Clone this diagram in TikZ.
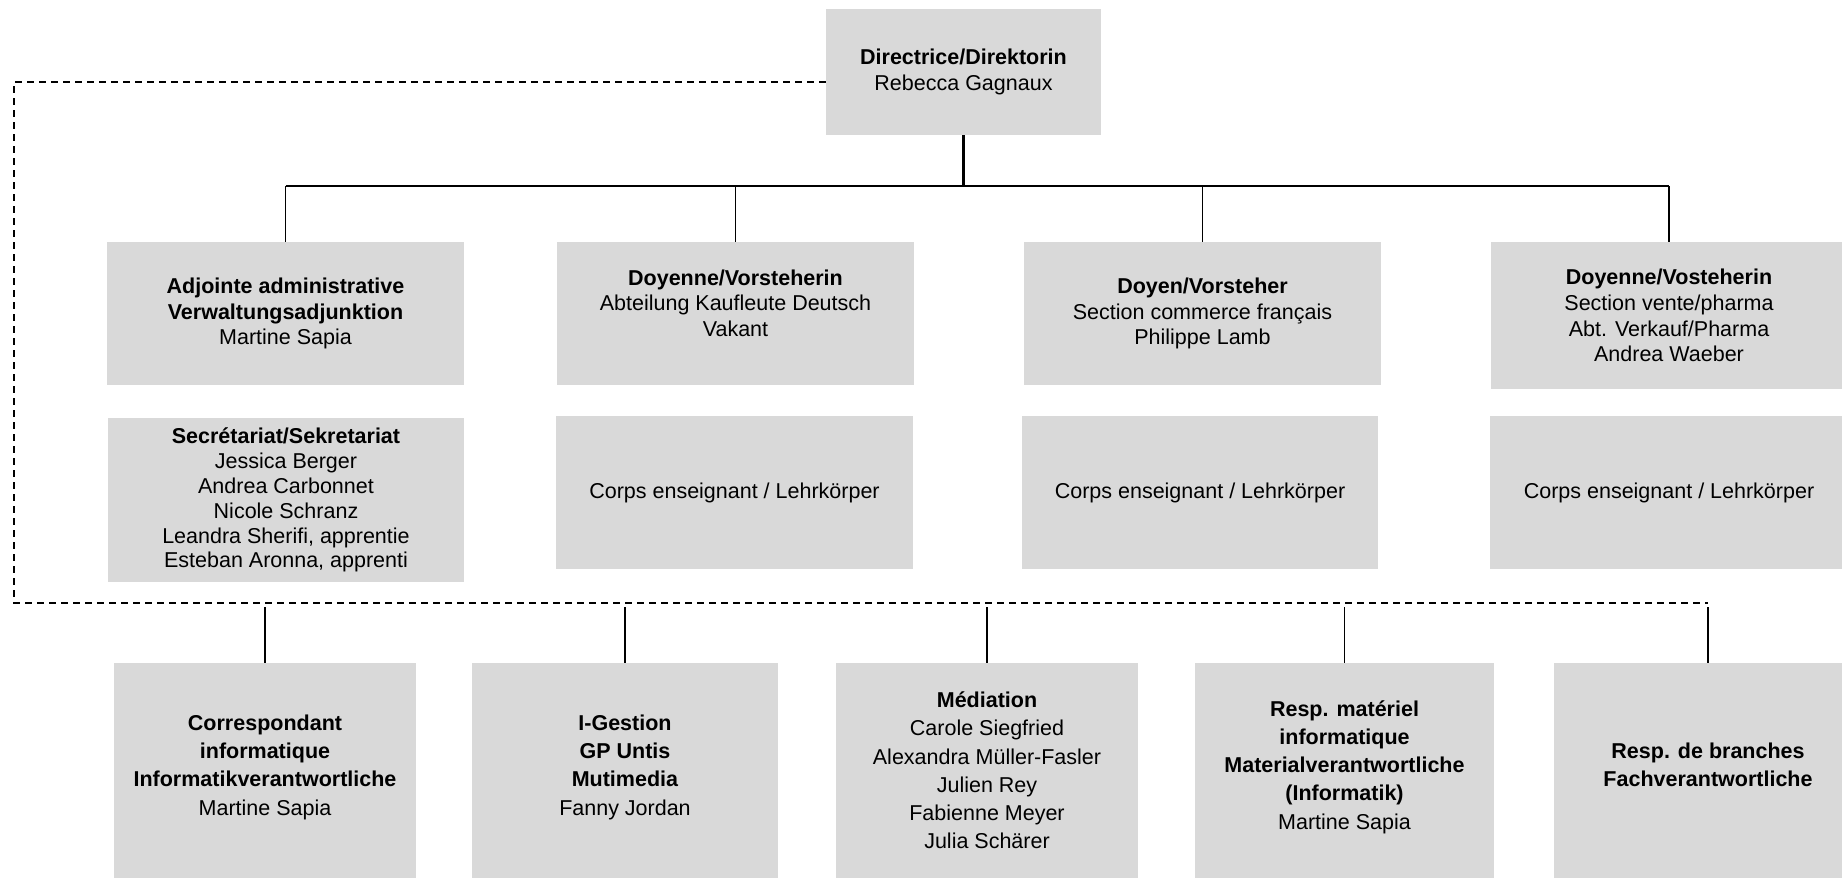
\documentclass[tikz,border=0pt]{standalone}
\usepackage{fontspec}
\setmainfont{Liberation Sans}
\definecolor{boxgray}{HTML}{D9D9D9}
\tikzset{
  post/.style={fill=boxgray, align=center, inner sep=0pt,
    font=\fontsize{21.5pt}{25.8pt}\selectfont},
  staff/.style={post, font=\fontsize{21.5pt}{28.2pt}\selectfont},
  bus/.style={line width=2.4pt},
  drop/.style={line width=1.5pt},
  dashlink/.style={line width=1.8pt, dash pattern=on 7pt off 5pt}
}
\begin{document}
\begin{tikzpicture}[x=1pt,y=-1pt]
  \useasboundingbox (0,0) rectangle (1842,878);

  \newcommand\Hb{143pt}
  \newcommand\Hc{153pt}
  \newcommand\Hd{215pt}

  % direction
  \node[post, minimum width=275pt, minimum height=126pt] (dir) at (963.5,72)
  {\textbf{Directrice/Direktorin}\\Rebecca Gagnaux};

  % second row
  \node[post, minimum width=357pt, minimum height=\Hb] (adj) at (285.5,313.5)
  {\textbf{Adjointe administrative}\\\textbf{Verwaltungsadjunktion}\\Martine Sapia};
  \node[post, minimum width=357pt, minimum height=\Hb] (doyA) at (735.5,313.5)
  {\textbf{Doyenne/Vorsteherin}\\Abteilung Kaufleute Deutsch\\Vakant\\[-5pt]};
  \node[post, minimum width=357pt, minimum height=\Hb] (doyB) at (1202.5,313.5)
  {\textbf{Doyen/Vorsteher}\\Section commerce français\\Philippe Lamb};
  \node[post, minimum width=357pt, minimum height=147pt] (doyC) at (1669,315.5)
  {\textbf{Doyenne/Vosteherin}\\Section vente/pharma\\Abt. Verkauf/Pharma\\Andrea Waeber};

  % third row
  \node[post, font=\fontsize{21.5pt}{24.9pt}\selectfont,
    minimum width=356pt, minimum height=164pt] (sec) at (286,500)
  {\textbf{Secrétariat/Sekretariat}\\Jessica Berger\\Andrea Carbonnet\\Nicole Schranz\\
   Leandra Sherifi, apprentie\\Esteban Aronna, apprenti};
  \node[post, minimum width=357pt, minimum height=\Hc] (corpsA) at (734.5,492.5)
  {Corps enseignant / Lehrkörper};
  \node[post, minimum width=356pt, minimum height=\Hc] (corpsB) at (1200,492.5)
  {Corps enseignant / Lehrkörper};
  \node[post, minimum width=358pt, minimum height=\Hc] (corpsC) at (1669,492.5)
  {Corps enseignant / Lehrkörper};

  % staff row
  \node[staff, minimum width=302pt, minimum height=\Hd] (corr) at (265,770.5)
  {\textbf{Correspondant}\\\textbf{informatique}\\\textbf{Informatikverantwortliche}\\Martine Sapia\\[-17pt]};
  \node[staff, minimum width=306pt, minimum height=\Hd] (iges) at (625,770.5)
  {\textbf{I-Gestion}\\\textbf{GP Untis}\\\textbf{Mutimedia}\\Fanny Jordan\\[-17pt]};
  \node[staff, minimum width=302pt, minimum height=\Hd] (med) at (987,770.5)
  {\textbf{Médiation}\\Carole Siegfried\\Alexandra Müller-Fasler\\Julien Rey\\
   Fabienne Meyer\\Julia Schärer};
  \node[staff, minimum width=299pt, minimum height=\Hd] (mat) at (1344.5,770.5)
  {\textbf{Resp. matériel}\\\textbf{informatique}\\\textbf{Materialverantwortliche}\\
   \textbf{(Informatik)}\\Martine Sapia\\[-17pt]};
  \node[staff, minimum width=308pt, minimum height=\Hd] (branch) at (1708,770.5)
  {\textbf{Resp. de branches}\\\textbf{Fachverantwortliche}\\[-17pt]};

  % hierarchy
  \coordinate (bus) at (0,186);
  \draw[bus] (dir.south) -- (dir.south |- bus);
  \draw[bus] (adj.north |- bus) -- (doyC.north |- bus);
  \foreach \n in {adj,doyA,doyB,doyC}
    \draw[drop] (\n.north) -- (\n.north |- bus);

  % staff link
  \coordinate (dl) at (14,603);
  \draw[dashlink] ([yshift=-10pt]dir.west) -| (dl) -- (dl -| branch.north);
  \foreach \n in {corr,iges,med,mat,branch}
    \draw[drop] (\n.north) -- ([yshift=-4pt]\n.north |- dl);

\end{tikzpicture}
\end{document}
